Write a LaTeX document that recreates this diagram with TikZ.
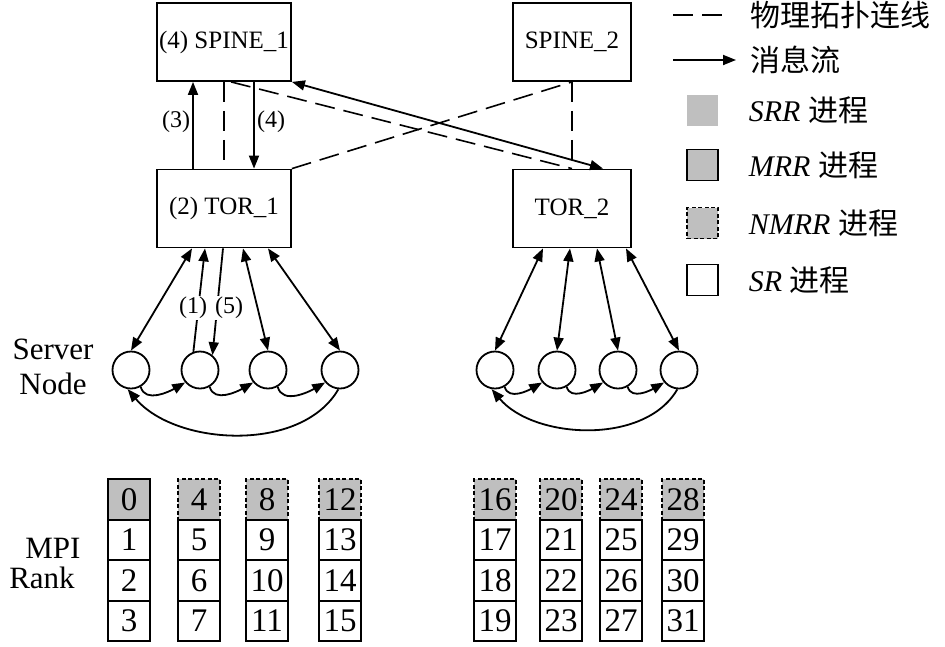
\documentclass[tikz,border=0pt]{standalone}
\usepackage{fontspec}
\setmainfont{Liberation Serif}
\newfontfamily\cjk{Noto Sans CJK SC}
\usetikzlibrary{arrows.meta}
\begin{document}
\begin{tikzpicture}[x=1pt,y=-1pt, line width=1.8pt,
  >={Triangle[length=13pt,width=10pt]},
  box/.style={draw, rectangle, minimum height=78pt, inner sep=0pt, font=\fontsize{25}{27}\selectfont},
  srv/.style={draw, circle, minimum size=37pt, inner sep=0pt},
  phys/.style={dash pattern=on 20pt off 9pt, line width=1.6pt},
  elab/.style={font=\fontsize{24}{26}\selectfont, fill=white, inner sep=1pt},
  cell/.style={draw, rectangle, minimum width=42pt, minimum height=40.5pt, inner sep=0pt, line width=1.6pt, font=\fontsize{33}{33}\selectfont},
  mrr/.style={cell, fill=black!25},
  nmrr/.style={cell, fill=black!25, dash pattern=on 4pt off 2.5pt},
  side/.style={font=\fontsize{31}{35}\selectfont, align=center, inner sep=0pt},
  legtxt/.style={anchor=west, inner sep=0pt, font=\fontsize{30}{32}\selectfont},
  legsq/.style={rectangle, minimum size=31pt, inner sep=0pt, line width=1.6pt}
]
\useasboundingbox (0,0) rectangle (945,646);

% switches
\node[box, minimum width=134pt] (spine1) at (224,42) {(4) SPINE\_1};
\node[box, minimum width=134pt] (tor1) at (224,208.5) {(2) TOR\_1};
\node[box, minimum width=118pt] (spine2) at (572,42) {SPINE\_2};
\node[box, minimum width=118pt] (tor2) at (572,208.5) {TOR\_2};

% physical links
\draw[phys] (spine1.south) -- (tor1.north);
\draw[phys] ([xshift=7pt]spine1.south) -- (tor2.north);
\draw[phys] (tor1.north east) -- (spine2.south);
\draw[phys] (spine2.south) -- (tor2.north);

% message flows between switches
\draw[->] ([xshift=-31pt]tor1.north) -- ([xshift=-31pt]spine1.south);
\draw[->] ([xshift=30pt]spine1.south) -- ([xshift=30pt]tor1.north);
\draw[<->] (spine1.south east) -- ([xshift=31pt]tor2.north);
\node[font=\fontsize{24}{26}\selectfont] (l3) at (176,122) {(3)};
\node[font=\fontsize{24}{26}\selectfont] (l4) at (271,122) {(4)};

% server nodes
\node[srv] (c1) at (131,370) {};
\node[srv] (c2) at (200,370) {};
\node[srv] (c3) at (268,370) {};
\node[srv] (c4) at (340,370) {};
\node[srv] (c5) at (495,370) {};
\node[srv] (c6) at (557,370) {};
\node[srv] (c7) at (618,370) {};
\node[srv] (c8) at (679,370) {};

% TOR_1 to servers
\draw[<->] ([xshift=-32pt]tor1.south) -- (c1.north);
\draw[->] (c2.110) -- ([xshift=-19pt]tor1.south);
\draw[->] ([xshift=-1pt]tor1.south) -- (c2.50);
\draw[<->] ([xshift=19pt]tor1.south) -- (c3.north);
\draw[<->] ([xshift=44pt]tor1.south) -- (c4.north);
\node[elab] (l1) at (193,308) {(1)};
\node[elab] (l5) at (229,308) {(5)};

% TOR_2 to servers
\draw[<->] ([xshift=-29pt]tor2.south) -- (c5.north);
\draw[<->] ([xshift=-2pt]tor2.south) -- (c6.north);
\draw[<->] ([xshift=25pt]tor2.south) -- (c7.north);
\draw[<->] ([xshift=54pt]tor2.south) -- (c8.north);

% ring arrows
\draw[->] (c1.-60) to[out=-75,in=-150] (c2.-140);
\draw[->] (c2.-60) to[out=-75,in=-150] (c3.-140);
\draw[->] (c3.-60) to[out=-75,in=-150] (c4.-140);
\draw[->] (c4.-95) to[out=-120,in=-50,looseness=0.9] (c1.-100);
\draw[->] (c5.-60) to[out=-75,in=-150] (c6.-140);
\draw[->] (c6.-60) to[out=-75,in=-150] (c7.-140);
\draw[->] (c7.-60) to[out=-75,in=-150] (c8.-140);
\draw[->] (c8.-95) to[out=-120,in=-50,looseness=0.9] (c5.-100);

\node[side] (srvlab) at (53,367) {Server\\Node};
\node[side] (mpi) at (53,548) {MPI};
\node[side] (rank) at (42,578) {Rank};

% rank cells
\foreach \col/\x in {0/129,1/199,2/267,3/340,4/495,5/561,6/621,7/683}{
  \pgfmathtruncatemacro{\base}{4*\col}
  \ifnum\col=0
    \node[mrr] (r\base) at (\x,499.5) {\base};
  \else
    \node[nmrr] (r\base) at (\x,499.5) {\base};
  \fi
  \foreach \k in {1,2,3}{
    \pgfmathtruncatemacro{\num}{\base+\k}
    \node[cell] (r\num) at (\x,499.5+40.5*\k) {\num};
  }
}

% legend
\coordinate (lda) at (673,15);
\coordinate (ldb) at (728,15);
\draw[phys] (lda) -- (ldb);
\node[legtxt, font=\cjk\fontsize{30}{32}\selectfont] (lt1) at (750,15) {物理拓扑连线};
\coordinate (laa) at (673,60);
\coordinate (lab) at (736,60);
\draw[->] (laa) -- (lab);
\node[legtxt, font=\cjk\fontsize{30}{32}\selectfont] (lt2) at (750,60) {消息流};
\node[legsq, fill=black!25] (sq1) at (702.5,110) {};
\node[legtxt] (lt3) at (748,110) {\textit{SRR} {\cjk 进程}};
\node[legsq, draw, fill=black!25] (sq2) at (702.5,165) {};
\node[legtxt] (lt4) at (748,165) {\textit{MRR} {\cjk 进程}};
\node[legsq, draw, fill=black!25, dash pattern=on 4pt off 2.5pt] (sq3) at (702.5,223) {};
\node[legtxt] (lt5) at (748,223) {\textit{NMRR} {\cjk 进程}};
\node[legsq, draw] (sq4) at (702.5,280) {};
\node[legtxt] (lt6) at (748,280) {\textit{SR} {\cjk 进程}};
\end{tikzpicture}
\end{document}
